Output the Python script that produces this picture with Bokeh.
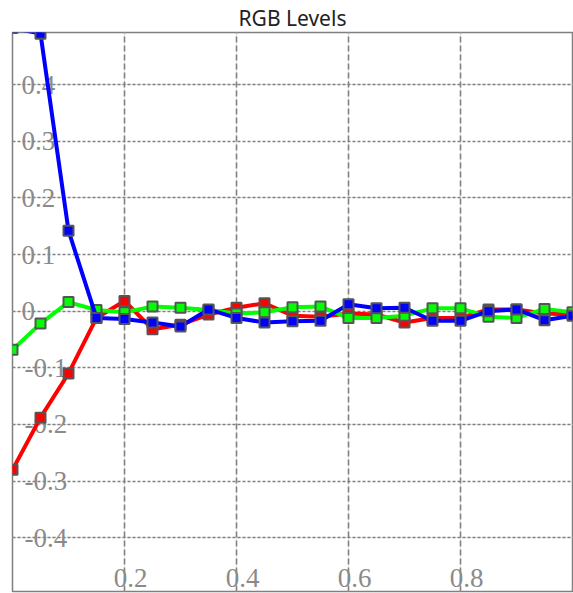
from bokeh.plotting import figure
from bokeh.models import Range1d, Grid, FixedTicker, ColumnDataSource
from bokeh.core.properties import value
from bokeh.embed import file_html
from bokeh.resources import INLINE

x_vals = [0.0, 0.05, 0.1, 0.15, 0.2, 0.25, 0.3, 0.35, 0.4, 0.45, 0.5,
          0.55, 0.6, 0.65, 0.7, 0.75, 0.8, 0.85, 0.9, 0.95, 1.0]
red = [-0.28, -0.188, -0.11, -0.012, 0.018, -0.032, -0.024, -0.006, 0.006, 0.014, -0.008,
       -0.01, -0.004, -0.006, -0.02, -0.012, -0.012, 0.003, 0.003, -0.004, -0.006]
green = [-0.068, -0.022, 0.016, 0.002, -0.002, 0.008, 0.006, 0.002, -0.004, -0.002, 0.007,
         0.008, -0.012, -0.012, -0.008, 0.005, 0.005, -0.01, -0.012, 0.004, -0.002]
blue = [0.5, 0.49, 0.142, -0.012, -0.014, -0.02, -0.027, 0.003, -0.012, -0.02, -0.018,
        -0.017, 0.012, 0.005, 0.006, -0.017, -0.017, 0.0, 0.003, -0.016, -0.008]

x_ticks = [0.2, 0.4, 0.6, 0.8]
x_tick_labels = ["0.2", "0.4", "0.6", "0.8"]
y_ticks = [-0.4, -0.3, -0.2, -0.1, 0.0, 0.1, 0.2, 0.3, 0.4]
y_tick_labels = ["-0.4", "-0.3", "-0.2", "-0.1", "0", "0.1", "0.2", "0.3", "0.4"]

p = figure(width=573, height=593, output_backend="svg", toolbar_location=None,
           x_axis_location=None, y_axis_location=None,
           x_range=Range1d(0, 1.0), y_range=Range1d(-0.495, 0.492),
           title="RGB Levels",
           min_border_left=12, min_border_right=1, min_border_bottom=2, min_border_top=0)
p.title.align = "center"
p.title.text_font = "Noto Sans"
p.title.text_font_size = "21px"
p.title.text_font_style = "normal"
p.title.text_color = "#222222"
p.title.standoff = 2
p.outline_line_color = "#808080"
p.outline_line_width = 1.5
p.background_fill_color = "white"
p.border_fill_color = "white"

xg = Grid(dimension=0, ticker=FixedTicker(ticks=x_ticks), grid_line_color="#808080",
          grid_line_width=1.6, grid_line_dash="6 3")
yg = Grid(dimension=1, ticker=FixedTicker(ticks=y_ticks), grid_line_color="#808080",
          grid_line_width=1.6, grid_line_dash="3 2")
p.add_layout(xg)
p.add_layout(yg)

# tick labels drawn inside the frame
lab_font = value("Liberation Serif")
pos_y = [t for t in y_ticks if t >= 0]
pos_lab = [l for t, l in zip(y_ticks, y_tick_labels) if t >= 0]
neg_y = [t for t in y_ticks if t < 0]
neg_lab = [l for t, l in zip(y_ticks, y_tick_labels) if t < 0]
p.text(x=[0.0] * len(pos_y), y=pos_y, text=pos_lab, x_offset=9,
       text_font=lab_font, text_font_size="27px", text_color="#8a8a8a",
       text_baseline="middle", text_align="left")
p.text(x=[0.0] * len(neg_y), y=neg_y, text=neg_lab, x_offset=12,
       text_font=lab_font, text_font_size="27px", text_color="#8a8a8a",
       text_baseline="middle", text_align="left")
p.text(x=x_ticks, y=[-0.495] * len(x_ticks), text=x_tick_labels, x_offset=6, y_offset=-14,
       text_font=lab_font, text_font_size="27px", text_color="#8a8a8a",
       text_baseline="middle", text_align="center")

for ys, col in [(red, "#ff0000"), (green, "#00ff00"), (blue, "#0000ff")]:
    src = ColumnDataSource(dict(x=x_vals, y=ys))
    p.line("x", "y", source=src, line_color=col, line_width=4)
    p.scatter("x", "y", source=src, marker="square", size=10, fill_color=col,
              line_color="#555555", line_width=2)

open("out.html", "w").write(file_html(p, INLINE))
